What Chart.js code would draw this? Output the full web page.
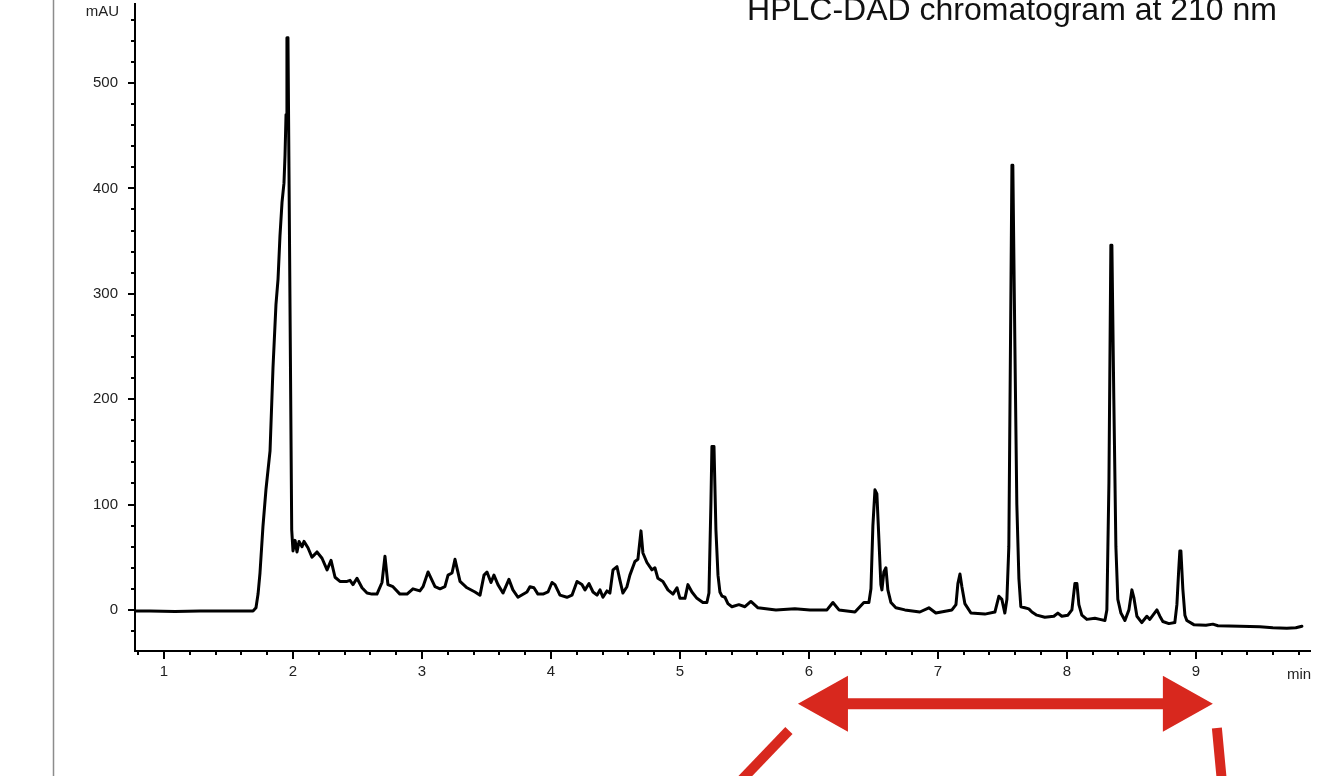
<!DOCTYPE html>
<html><head><meta charset="utf-8">
<script src="https://cdn.jsdelivr.net/npm/chart.js@4/dist/chart.umd.min.js"></script>
<style>html,body{margin:0;padding:0;background:#fff}canvas{display:block}</style>
</head><body>
<canvas id="c" width="1327" height="776"></canvas>
<script>
// ---- data (retention time in min, absorbance in mAU) ----
const times = [
0.775,0.891,1.085,1.279,1.473,1.628,1.690,1.713,1.729,1.744,
1.767,1.791,1.822,1.845,1.868,1.884,1.899,1.915,1.930,1.938,
1.946,1.953,1.961,1.990,2.000,2.016,2.031,
2.047,2.070,2.085,2.116,2.147,2.163,2.186,2.225,2.264,2.295,
2.326,2.364,2.419,2.442,2.465,2.496,2.535,2.574,2.612,2.651,
2.690,2.713,2.736,2.775,2.829,2.884,2.930,2.984,3.008,3.047,
3.101,3.140,3.178,3.202,3.233,3.256,3.295,3.349,3.411,3.450,
3.481,3.504,3.535,3.558,3.589,3.628,3.674,3.705,3.744,3.814,
3.837,3.868,3.899,3.938,3.977,4.008,4.031,4.070,4.124,4.163,
4.202,4.240,4.264,4.295,4.326,4.357,4.380,4.403,4.434,4.457,
4.481,4.512,4.535,4.558,4.589,4.612,4.651,4.674,4.698,4.713,
4.744,4.783,4.806,4.829,4.868,4.907,4.946,4.977,5.000,5.039,
5.062,5.093,5.132,5.178,5.209,5.225,5.240,5.248,5.264,5.279,
5.295,5.310,5.326,5.349,5.372,5.403,5.457,5.504,5.550,5.605,
5.744,5.891,6.008,6.140,6.186,6.233,6.357,6.426,6.465,6.481,
6.496,6.512,6.527,6.543,6.558,6.566,6.581,6.597,6.612,6.636,
6.674,6.744,6.860,6.930,6.984,7.109,7.140,7.155,7.171,7.186,
7.209,7.256,7.364,7.442,7.473,7.496,7.519,7.535,7.550,7.566,
7.574,7.581,7.597,7.612,7.628,7.643,7.674,7.705,7.729,7.767,
7.829,7.899,7.930,7.961,8.008,8.039,8.062,8.078,8.093,8.116,
8.155,8.217,8.256,8.295,8.310,8.326,8.341,8.349,8.364,8.380,
8.395,8.419,8.450,8.481,8.504,8.519,8.543,8.581,8.620,8.643,
8.698,8.721,8.744,8.791,8.837,8.853,8.868,8.876,8.884,8.899,
8.915,8.930,8.984,9.078,9.132,9.171,9.341,9.496,9.597,9.705,
9.775,9.822];
const absorbance = [
-1,-1,-1.5,-1,-1,-1,-1,2,15,35,
79,115,151,230,290,314,355,387,405,431,
470,543,543,76,56,66,55,
65,60,65,59,50,52,55,49,38,47,
31,27,27,28,24,30,21,16,15,15,
26,51,24,22,15,15,20,18,22,36,
22,20,22,33,35,48,27,21,17,14,
33,36,26,33,24,16,29,19,12,17,
22,21,15,15,17,26,24,14,12,14,
27,24,19,25,17,14,19,12,18,16,
38,41,28,16,22,33,46,48,75,54,
45,38,40,30,27,19,15,21,11,11,
24,17,11,7,7,16,100,155,155,76,
33,17,13,12,6,3,5,3,8,2,
0,1,0,0,7,0,-2,7,7,20,
80,114,110,66,24,19,36,40,19,7,
2,0,-2,2,-3,0,5,25,34,22,
6,-3,-4,-2,13,10,-3,10,60,300,
422,422,250,100,30,3,2,1,-2,-5,
-7,-6,-3,-6,-5,0,25,25,5,-5,
-9,-8,-9,-10,0,120,346,346,200,60,
10,-3,-10,0,19,12,-6,-12,-6,-9,
0,-6,-11,-13,-12,5,40,56,56,20,
-5,-10,-14,-14.5,-13.5,-15,-15.5,-16,-17,-17.5,
-17,-15.5];

const xMajorTicks = [1,2,3,4,5,6,7,8,9];
const xMinorTicks = [0.8,1.2,1.4,1.6,1.8,2.2,2.4,2.6,2.8,3.2,3.4,3.6,3.8,4.2,4.4,4.6,4.8,
  5.2,5.4,5.6,5.8,6.2,6.4,6.6,6.8,7.2,7.4,7.6,7.8,8.2,8.4,8.6,8.8,9.2,9.4,9.6,9.8];
const yMajorTicks = [0,100,200,300,400,500];
const yMinorTicks = [-20,20,40,60,80,120,140,160,180,220,240,260,280,320,340,360,380,
  420,440,460,480,520,540,560];

const titleText = 'HPLC-DAD chromatogram at 210 nm';
const yUnit = 'mAU';
const xUnit = 'min';

// annotation (in data units)
const arrowSpan = [5.915, 9.132];
const arrowLevel = -89;
const leftDash = [[5.845, -114.5], [5.465, -163]];
const rightDash = [[9.163, -112], [9.202, -163]];

const FONT = '"Liberation Sans", Arial, Helvetica, sans-serif';
const RED = '#d8281e';

const deco = {
  id: 'deco',
  afterDraw(chart) {
    const ctx = chart.ctx, xs = chart.scales.x, ys = chart.scales.y, a = chart.chartArea;
    ctx.save();
    ctx.strokeStyle = '#8c8c8c'; ctx.lineWidth = 1.5;
    ctx.beginPath(); ctx.moveTo(53.5, 0); ctx.lineTo(53.5, 776); ctx.stroke();
    ctx.strokeStyle = '#000'; ctx.lineWidth = 2;
    ctx.beginPath();
    yMinorTicks.forEach(v => { const p = Math.round(ys.getPixelForValue(v)); ctx.moveTo(a.left - 4, p); ctx.lineTo(a.left, p); });
    xMinorTicks.forEach(v => { const p = Math.round(xs.getPixelForValue(v)); ctx.moveTo(p, a.bottom); ctx.lineTo(p, a.bottom + 4); });
    ctx.stroke();
    ctx.fillStyle = '#222';
    ctx.font = '15px ' + FONT;
    ctx.textAlign = 'right'; ctx.textBaseline = 'alphabetic';
    ctx.fillText(yUnit, 119, 16);
    ctx.textAlign = 'center';
    ctx.fillText(xUnit, 1299, 679);
    ctx.fillStyle = '#111';
    ctx.font = '32px ' + FONT;
    ctx.textAlign = 'right';
    ctx.fillText(titleText, 1277, 20);
    const xl = xs.getPixelForValue(arrowSpan[0]), xr = xs.getPixelForValue(arrowSpan[1]);
    const yc = ys.getPixelForValue(arrowLevel);
    const hl = 50, hh = 28, sh = 5.5;
    ctx.fillStyle = RED;
    ctx.beginPath();
    ctx.moveTo(xl, yc);
    ctx.lineTo(xl + hl, yc - hh); ctx.lineTo(xl + hl, yc - sh);
    ctx.lineTo(xr - hl, yc - sh); ctx.lineTo(xr - hl, yc - hh);
    ctx.lineTo(xr, yc);
    ctx.lineTo(xr - hl, yc + hh); ctx.lineTo(xr - hl, yc + sh);
    ctx.lineTo(xl + hl, yc + sh); ctx.lineTo(xl + hl, yc + hh);
    ctx.closePath(); ctx.fill();
    ctx.strokeStyle = RED; ctx.lineWidth = 10; ctx.lineCap = 'butt';
    [leftDash, rightDash].forEach(seg => {
      ctx.beginPath();
      ctx.moveTo(xs.getPixelForValue(seg[0][0]), ys.getPixelForValue(seg[0][1]));
      ctx.lineTo(xs.getPixelForValue(seg[1][0]), ys.getPixelForValue(seg[1][1]));
      ctx.stroke();
    });
    ctx.restore();
  }
};

function noPad(s) { s.paddingTop = 0; s.paddingBottom = 0; s.paddingLeft = 0; s.paddingRight = 0; }

new Chart(document.getElementById('c'), {
  type: 'line',
  data: {
    datasets: [{
      data: times.map((t, i) => ({ x: t, y: absorbance[i] })),
      borderColor: '#000', borderWidth: 3, pointRadius: 0, tension: 0,
      fill: false, borderJoinStyle: 'round', borderCapStyle: 'round'
    }]
  },
  options: {
    responsive: false, devicePixelRatio: 1, animation: false, events: [],
    layout: { padding: { left: 0, top: 4, right: 17, bottom: 0 } },
    plugins: { legend: { display: false }, tooltip: { enabled: false }, title: { display: false } },
    scales: {
      x: {
        type: 'linear', min: 0.775, max: 9.885,
        afterBuildTicks: s => { s.ticks = xMajorTicks.map(v => ({ value: v })); },
        afterFit: s => { s.height = 125; noPad(s); },
        grid: { drawOnChartArea: false, drawTicks: true, tickLength: 8, color: '#000', lineWidth: 2 },
        border: { display: true, color: '#000', width: 2 },
        ticks: { font: { family: FONT, size: 15 }, color: '#222', padding: 4, maxRotation: 0, autoSkip: false }
      },
      y: {
        type: 'linear', min: -39, max: 575,
        afterBuildTicks: s => { s.ticks = yMajorTicks.map(v => ({ value: v })); },
        afterFit: s => { s.width = 135; noPad(s); },
        grid: { drawOnChartArea: false, drawTicks: true, tickLength: 7, color: '#000', lineWidth: 2 },
        border: { display: true, color: '#000', width: 2 },
        ticks: { font: { family: FONT, size: 15 }, color: '#222', padding: 10 }
      }
    }
  },
  plugins: [deco]
});
</script>
</body></html>
